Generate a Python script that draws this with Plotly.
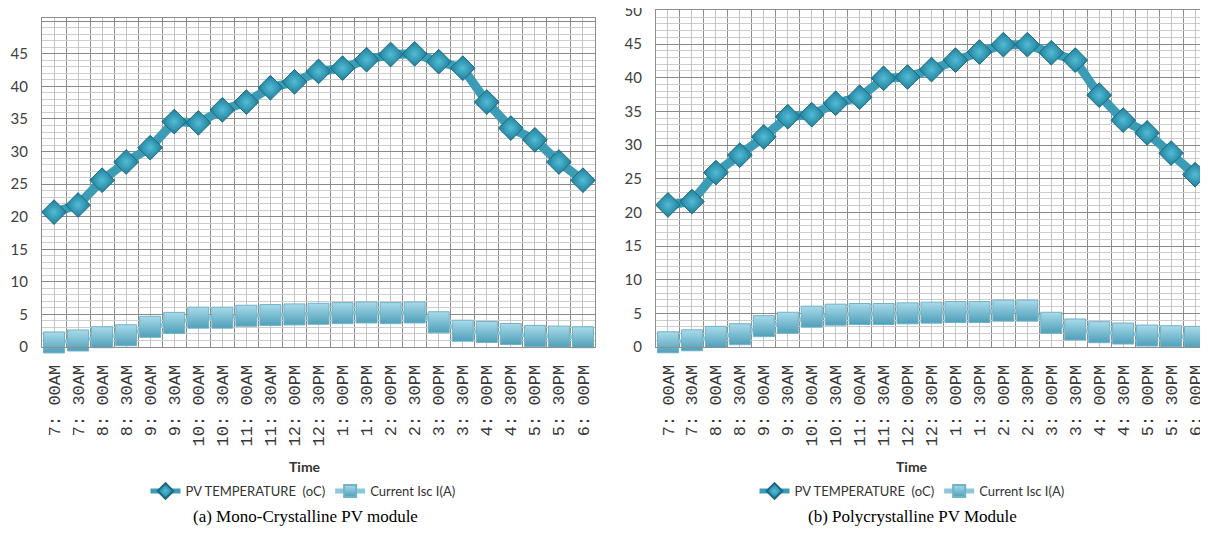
import plotly.graph_objects as go

# ---------------- data ----------------
times = ["7: 00AM", "7: 30AM", "8: 00AM", "8: 30AM", "9: 00AM", "9: 30AM",
         "10: 00AM", "10: 30AM", "11: 00AM", "11: 30AM", "12: 00PM", "12: 30PM",
         "1: 00PM", "1: 30PM", "2: 00PM", "2: 30PM", "3: 00PM", "3: 30PM",
         "4: 00PM", "4: 30PM", "5: 00PM", "5: 30PM", "6: 00PM"]

mono_temp = [20.7, 21.8, 25.6, 28.4, 30.6, 34.6, 34.4, 36.4, 37.6, 39.8, 40.7, 42.3,
             42.8, 44.1, 44.9, 45.0, 43.8, 42.8, 37.6, 33.6, 31.8, 28.4, 25.6]
mono_isc = [0.7, 1.0, 1.5, 1.8, 3.1, 3.7, 4.5, 4.5, 4.8, 4.9, 5.0, 5.1,
            5.2, 5.3, 5.2, 5.3, 3.8, 2.5, 2.3, 2.0, 1.7, 1.6, 1.5]

poly_temp = [21.1, 21.6, 25.9, 28.5, 31.2, 34.2, 34.5, 36.2, 37.1, 39.9, 40.1, 41.2,
             42.6, 43.8, 44.9, 44.9, 43.7, 42.6, 37.4, 33.7, 31.8, 28.8, 25.6]
poly_isc = [0.7, 1.0, 1.5, 1.9, 3.1, 3.6, 4.5, 4.8, 4.9, 4.9, 5.0, 5.1,
            5.2, 5.2, 5.4, 5.4, 3.6, 2.6, 2.2, 2.0, 1.7, 1.6, 1.5]

y_ticks = [0, 5, 10, 15, 20, 25, 30, 35, 40, 45, 50]
left_ytext = ["0", "5", "10", "15", "20", "25", "30", "35", "40", "45", ""]
right_ytext = [str(v) for v in y_ticks]

temp_name = "PV TEMPERATURE  (oC)"
isc_name = "Current Isc I(A)"
captions = ["(a) Mono-Crystalline PV module", "(b) Polycrystalline PV Module"]

# ---------------- figure ----------------
# the page places the figure 8px in from the window corner; lay out in window pixels
OFF = 8
W, H = 1200, 525

def fx(px):
    return (px - OFF) / W

def fy(py):
    return (H - (py - OFF)) / H

xidx = list(range(len(times)))

fig = go.Figure()

def add_panel(temp, isc, xa, ya, legend_name):
    fig.add_trace(go.Scatter(
        x=xidx, y=isc, name=isc_name, xaxis=xa, yaxis=ya, legend=legend_name,
        mode="lines+markers", cliponaxis=False,
        line=dict(color="#8cc8da", width=4),
        marker=dict(symbol="square", size=21, color="#a9dbea",
                    gradient=dict(type="vertical", color="#4f9fb9"),
                    line=dict(color="#6fb3c8", width=1)),
    ))
    fig.add_trace(go.Scatter(
        x=xidx, y=temp, name=temp_name, xaxis=xa, yaxis=ya, legend=legend_name,
        mode="lines+markers", cliponaxis=False,
        line=dict(color="#3c9cb5", width=9),
        marker=dict(symbol="diamond", size=19, color="#1f7d98",
                    gradient=dict(type="radial", color="#52bcd6"),
                    line=dict(color="#1a6a82", width=1)),
    ))

add_panel(mono_temp, mono_isc, "x", "y", "legend")
add_panel(poly_temp, poly_isc, "x2", "y2", "legend2")

def xaxis_cfg(x0, x1):
    return dict(
        domain=[fx(x0), fx(x1)], range=[-0.5, len(times) - 0.5],
        tickmode="array", tickvals=xidx, ticktext=times, tickangle=-90,
        tickfont=dict(family="Liberation Mono", size=17, color="#383838"),
        ticklabelstandoff=10, automargin=False,
        showgrid=True, gridcolor="#c4c4c4", gridwidth=1,
        minor=dict(tickmode="array", tickvals=[i - 0.5 for i in range(len(times) + 1)],
                   showgrid=True, gridcolor="#8e8e8e", gridwidth=1),
        showline=True, linecolor="#8e8e8e", mirror=True, zeroline=False,
    )

def yaxis_cfg(top_px, rmax, text, anchor):
    return dict(
        domain=[fy(347), fy(top_px)], range=[0, rmax],
        tickmode="array", tickvals=y_ticks, ticktext=text,
        tickfont=dict(family="Lato", size=15, color="#404040"),
        ticklabelstandoff=10, automargin=False, ticklabeloverflow="allow",
        showgrid=True, gridcolor="#8a8a8a", gridwidth=1,
        minor=dict(dtick=1, tick0=0, showgrid=True, gridcolor="#cdcdcd", gridwidth=1),
        showline=True, linecolor="#8e8e8e", mirror=True, zeroline=False,
        anchor=anchor,
    )

legend_common = dict(orientation="h", xanchor="center", y=fy(491), yanchor="middle",
                     font=dict(family="Lato", size=13, color="#333333"), traceorder="reversed",
                     bgcolor="rgba(0,0,0,0)", itemwidth=30, itemsizing="constant")

fig.update_layout(
    width=W, height=H,
    margin=dict(l=0, r=0, t=0, b=0, pad=0, autoexpand=False),
    paper_bgcolor="white", plot_bgcolor="white",
    xaxis=dict(xaxis_cfg(42, 595), anchor="y"),
    yaxis=yaxis_cfg(18, 50.5, left_ytext, "x"),
    xaxis2=dict(xaxis_cfg(656, 1207), anchor="y2"),
    yaxis2=yaxis_cfg(10, 50.05, right_ytext, "x2"),
    legend=dict(legend_common, x=fx(303)),
    legend2=dict(legend_common, x=fx(912)),
    showlegend=True,
)

annotations = [
    dict(text="<b>Time</b>", x=fx(305), y=fy(466)),
    dict(text="<b>Time</b>", x=fx(912), y=fy(466)),
]
for a in annotations:
    a.update(xref="paper", yref="paper", showarrow=False, xanchor="center", yanchor="middle",
             font=dict(family="Lato", size=14, color="#333333"))
caps = [
    dict(text=captions[0], x=fx(305), y=fy(516)),
    dict(text=captions[1], x=fx(912), y=fy(516)),
]
for c in caps:
    c.update(xref="paper", yref="paper", showarrow=False, xanchor="center", yanchor="middle",
             font=dict(family="Liberation Serif", size=17, color="#000000"))
fig.update_layout(annotations=annotations + caps)

fig.write_html("out.html")
